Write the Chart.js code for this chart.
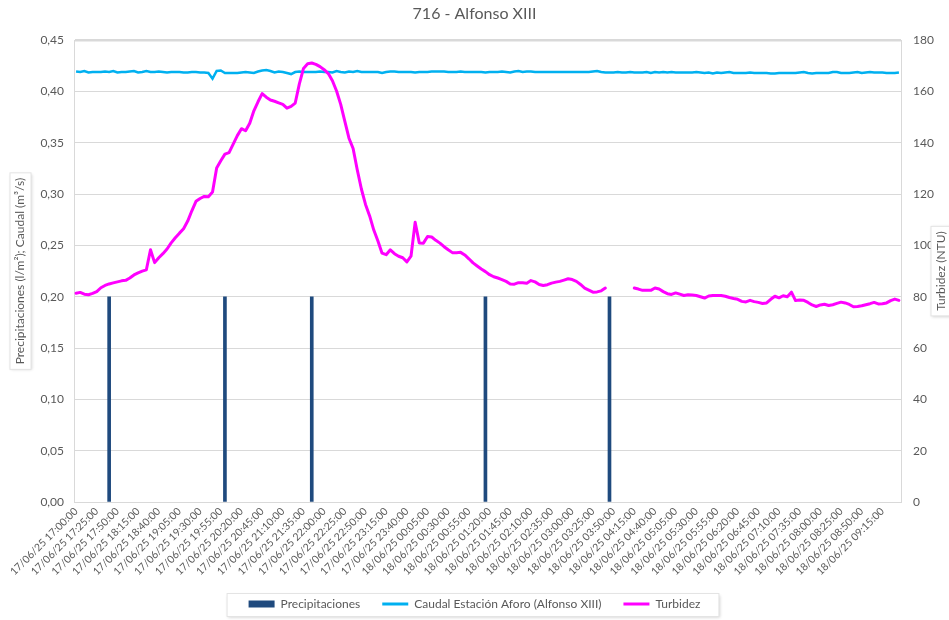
<!DOCTYPE html>
<html>
<head>
<meta charset="utf-8">
<title>716 - Alfonso XIII</title>
<script src="https://cdn.jsdelivr.net/npm/chart.js@4"></script>
<style>
  html, body { margin: 0; padding: 0; background: #ffffff; }
  #wrap { width: 949px; height: 620px; }
</style>
</head>
<body>
<div id="wrap"><canvas id="chart" width="949" height="620"></canvas></div>
<script>
// Time axis: readings every 5 minutes from 17/06/25 17:00:00
const startDay = 17;
const startMinutes = 17 * 60;
const stepMinutes = 5;
const pointCount = 200;

// Precipitation events (l/m2)
const precipTimes = [
  "17/06/25 17:40:00",
  "17/06/25 20:00:00",
  "17/06/25 21:45:00",
  "18/06/25 01:15:00",
  "18/06/25 03:45:00",
];
const precipValues = [0.2, 0.2, 0.2, 0.2, 0.2];

// Caudal (m3/s)
const caudal = [
  0.4195, 0.4190, 0.4200, 0.4185, 0.4190, 0.4190, 0.4190, 0.4195, 0.4190, 0.4200,
  0.4185, 0.4190, 0.4190, 0.4195, 0.4200, 0.4185, 0.4190, 0.4200, 0.4190, 0.4190,
  0.4195, 0.4190, 0.4185, 0.4190, 0.4190, 0.4190, 0.4185, 0.4185, 0.4190, 0.4190,
  0.4185, 0.4185, 0.4180, 0.4125, 0.4200, 0.4205, 0.4180, 0.4180, 0.4180, 0.4180,
  0.4185, 0.4190, 0.4185, 0.4180, 0.4195, 0.4205, 0.4210, 0.4200, 0.4185, 0.4195,
  0.4190, 0.4180, 0.4170, 0.4190, 0.4195, 0.4190, 0.4190, 0.4190, 0.4190, 0.4195,
  0.4190, 0.4190, 0.4185, 0.4200, 0.4190, 0.4185, 0.4195, 0.4190, 0.4200, 0.4190,
  0.4190, 0.4190, 0.4190, 0.4190, 0.4180, 0.4190, 0.4195, 0.4195, 0.4190, 0.4190,
  0.4190, 0.4190, 0.4185, 0.4190, 0.4190, 0.4190, 0.4195, 0.4195, 0.4195, 0.4195,
  0.4190, 0.4190, 0.4190, 0.4195, 0.4190, 0.4190, 0.4190, 0.4190, 0.4190, 0.4185,
  0.4190, 0.4190, 0.4190, 0.4195, 0.4190, 0.4185, 0.4195, 0.4200, 0.4190, 0.4195,
  0.4195, 0.4190, 0.4190, 0.4190, 0.4190, 0.4190, 0.4190, 0.4190, 0.4190, 0.4190,
  0.4190, 0.4190, 0.4190, 0.4190, 0.4190, 0.4195, 0.4200, 0.4190, 0.4185, 0.4185,
  0.4185, 0.4190, 0.4185, 0.4185, 0.4190, 0.4185, 0.4185, 0.4185, 0.4190, 0.4180,
  0.4190, 0.4185, 0.4190, 0.4185, 0.4190, 0.4185, 0.4185, 0.4185, 0.4185, 0.4185,
  0.4190, 0.4185, 0.4180, 0.4185, 0.4175, 0.4185, 0.4180, 0.4185, 0.4190, 0.4180,
  0.4180, 0.4180, 0.4180, 0.4185, 0.4180, 0.4180, 0.4180, 0.4180, 0.4175, 0.4175,
  0.4180, 0.4180, 0.4180, 0.4180, 0.4180, 0.4185, 0.4190, 0.4180, 0.4175, 0.4180,
  0.4180, 0.4180, 0.4180, 0.4190, 0.4190, 0.4180, 0.4180, 0.4180, 0.4185, 0.4190,
  0.4180, 0.4185, 0.4190, 0.4185, 0.4185, 0.4185, 0.4180, 0.4180, 0.4180, 0.4185,
];

// Turbidez (NTU), null = no reading
const turbidez = [
  81.4, 81.7, 81.0, 80.8, 81.3, 82.0, 83.5, 84.4, 85.0, 85.4,
  85.8, 86.2, 86.4, 87.3, 88.5, 89.3, 90.0, 90.5, 98.3, 93.3,
  95.2, 96.8, 98.6, 101.0, 103.0, 104.8, 106.5, 109.5, 113.5, 117.2,
  118.3, 119.1, 119.0, 120.8, 130.2, 133.0, 135.6, 136.2, 139.5, 142.8,
  145.5, 144.7, 147.6, 152.5, 156.0, 159.2, 157.8, 156.7, 156.2, 155.6,
  155.0, 153.5, 154.2, 155.5, 163.0, 169.0, 170.8, 171.1, 170.6, 169.7,
  168.5, 167.0, 164.2, 160.2, 155.0, 148.4, 141.8, 137.8, 129.5, 122.0,
  116.0, 111.5, 106.0, 101.7, 97.0, 96.4, 98.3, 96.8, 95.8, 95.2,
  93.6, 95.8, 109.0, 101.0, 100.9, 103.5, 103.3, 102.0, 100.9, 99.5,
  98.3, 97.2, 97.2, 97.3, 96.3, 94.8, 93.2, 92.0, 90.8, 89.8,
  88.6, 87.8, 87.3, 86.7, 86.0, 85.0, 84.9, 85.5, 85.5, 85.3,
  86.3, 85.8, 84.8, 84.4, 84.7, 85.3, 85.7, 86.0, 86.5, 87.0,
  86.7, 86.0, 84.8, 83.4, 82.6, 81.8, 81.9, 82.3, 83.4, null,
  null, null, null, null, null, 83.4, 83.0, 82.5, 82.5, 82.5,
  83.4, 83.0, 82.0, 81.2, 80.9, 81.5, 81.0, 80.5, 80.8, 80.7,
  80.5, 80.0, 79.5, 80.3, 80.5, 80.5, 80.5, 80.2, 79.7, 79.3,
  79.0, 78.2, 78.0, 78.6, 78.1, 77.8, 77.4, 77.6, 79.0, 80.2,
  79.6, 80.4, 80.0, 81.8, 78.5, 78.7, 78.6, 77.8, 76.8, 76.2,
  76.8, 77.1, 76.6, 76.9, 77.4, 77.9, 77.6, 77.0, 76.1, 76.2,
  76.5, 76.9, 77.3, 77.8, 77.2, 77.3, 77.6, 78.5, 79.1, 78.6,
];

const leftTicks = { min: 0, max: 0.45, step: 0.05 };
const rightTicks = { min: 0, max: 180, step: 20 };

const FONT = "Lato, 'Open Sans', sans-serif";
const TEXT = "#595959";
const GRID = "#d9d9d9";

// build the category labels
const pad = (n) => String(n).padStart(2, "0");
const categories = [];
for (let i = 0; i < pointCount; i++) {
  const total = startMinutes + i * stepMinutes;
  const day = startDay + Math.floor(total / 1440);
  const m = total % 1440;
  categories.push(pad(day) + "/06/25 " + pad(Math.floor(m / 60)) + ":" + pad(m % 60) + ":00");
}

function softFrame(ctx, x, y, w, h) {
  ctx.save();
  ctx.shadowColor = "rgba(0,0,0,0.18)";
  ctx.shadowBlur = 3;
  ctx.shadowOffsetX = 1;
  ctx.shadowOffsetY = 1;
  ctx.fillStyle = "#ffffff";
  ctx.fillRect(x, y, w, h);
  ctx.shadowColor = "transparent";
  ctx.strokeStyle = "#e4e4e4";
  ctx.lineWidth = 1;
  ctx.strokeRect(x, y, w, h);
  ctx.restore();
}

// Axis titles in framed boxes + frame behind the legend
const framesPlugin = {
  id: "frames",
  beforeDraw(chart) {
    const legend = chart.legend;
    if (!legend || !legend.legendHitBoxes || !legend.legendHitBoxes.length) return;
    const boxes = legend.legendHitBoxes;
    const left = Math.min(...boxes.map((b) => b.left)) - 22;
    const right = Math.max(...boxes.map((b) => b.left + b.width)) + 18;
    const top = Math.min(...boxes.map((b) => b.top)) - 5;
    const bottom = Math.max(...boxes.map((b) => b.top + b.height)) + 6;
    softFrame(chart.ctx, left + 0.5, top + 0.5, right - left, bottom - top);
  },
  afterDraw(chart) {
    const { ctx, chartArea } = chart;
    const midY = (chartArea.top + chartArea.bottom) / 2;

    function vTitle(text, cx) {
      ctx.save();
      ctx.font = "12px " + FONT;
      const w = ctx.measureText(text).width + 10;
      ctx.translate(cx, midY);
      ctx.rotate(-Math.PI / 2);
      softFrame(ctx, -w / 2, -10.5, w, 21);
      ctx.fillStyle = TEXT;
      ctx.textAlign = "center";
      ctx.textBaseline = "middle";
      ctx.fillText(text, 0, 0);
      ctx.restore();
    }
    vTitle("Precipitaciones (l/m²); Caudal (m³/s)", 20.5);
    vTitle("Turbidez (NTU)", 941.5);
  },
};

const ctx = document.getElementById("chart").getContext("2d");
new Chart(ctx, {
  type: "bar",
  data: {
    labels: categories,
    datasets: [
      {
        type: "bar",
        label: "Precipitaciones",
        data: precipTimes.map((t, i) => ({ x: t, y: precipValues[i] })),
        backgroundColor: "#1F4A7E",
        borderWidth: 0,
        barThickness: 3,
        yAxisID: "y",
        order: 3,
      },
      {
        type: "line",
        label: "Caudal Estación Aforo (Alfonso XIII)",
        data: caudal,
        borderColor: "#00B0F0",
        backgroundColor: "#00B0F0",
        borderWidth: 2.5,
        pointRadius: 0,
        tension: 0,
        yAxisID: "y",
        order: 2,
      },
      {
        type: "line",
        label: "Turbidez",
        data: turbidez,
        borderColor: "#FF00FF",
        backgroundColor: "#FF00FF",
        borderWidth: 3,
        pointRadius: 0,
        tension: 0,
        spanGaps: false,
        borderJoinStyle: "round",
        borderCapStyle: "round",
        yAxisID: "y1",
        order: 1,
      },
    ],
  },
  options: {
    responsive: false,
    animation: false,
    layout: { padding: { top: 0, right: 0, bottom: 0, left: 0 } },
    plugins: {
      title: {
        display: true,
        text: "716 - Alfonso XIII",
        color: TEXT,
        font: { family: FONT, size: 16, weight: "normal" },
        padding: { top: 4, bottom: 17 },
      },
      legend: {
        position: "bottom",
        labels: {
          color: TEXT,
          font: { family: FONT, size: 12 },
          usePointStyle: true,
          pointStyleWidth: 26,
          boxHeight: 7,
          padding: 22,
          sort: (a, b) => a.datasetIndex - b.datasetIndex,
          generateLabels(chart) {
            const items = Chart.defaults.plugins.legend.labels.generateLabels(chart);
            items.forEach((it) => {
              const ds = chart.data.datasets[it.datasetIndex];
              it.pointStyle = ds.type === "bar" ? "rect" : "line";
              it.lineWidth = ds.type === "bar" ? 0 : 3;
              it.strokeStyle = ds.borderColor || ds.backgroundColor;
              it.fillStyle = ds.backgroundColor;
            });
            return items;
          },
        },
      },
      tooltip: { enabled: false },
    },
    scales: {
      x: {
        type: "category",
        offset: true,
        grid: { display: false, drawTicks: false },
        border: { display: true, color: GRID, width: 1 },
        ticks: {
          autoSkip: false,
          minRotation: 45,
          maxRotation: 45,
          padding: 3,
          color: TEXT,
          font: { family: FONT, size: 10.5 },
          callback: function (value, index) {
            return index % 5 === 0 ? this.getLabelForValue(value) : "";
          },
        },
        afterFit: (s) => {
          s.height = 74;
        },
      },
      y: {
        position: "left",
        min: leftTicks.min,
        max: leftTicks.max,
        grid: {
          color: GRID,
          drawTicks: false,
          lineWidth: (c) => (c.tick && Math.abs(c.tick.value - leftTicks.max) < 1e-9 ? 2.5 : 1),
        },
        border: { display: true, color: GRID },
        ticks: {
          stepSize: leftTicks.step,
          padding: 10,
          color: TEXT,
          font: { family: FONT, size: 12 },
          callback: (v) => v.toFixed(2).replace(".", ","),
        },
        afterFit: (s) => {
          s.width = 74;
        },
      },
      y1: {
        position: "right",
        min: rightTicks.min,
        max: rightTicks.max,
        grid: { drawOnChartArea: false, drawTicks: false },
        border: { display: true, color: GRID },
        ticks: {
          stepSize: rightTicks.step,
          padding: 12,
          color: TEXT,
          font: { family: FONT, size: 12 },
        },
        afterFit: (s) => {
          s.width = 48;
        },
      },
    },
  },
  plugins: [framesPlugin],
});
</script>
</body>
</html>
